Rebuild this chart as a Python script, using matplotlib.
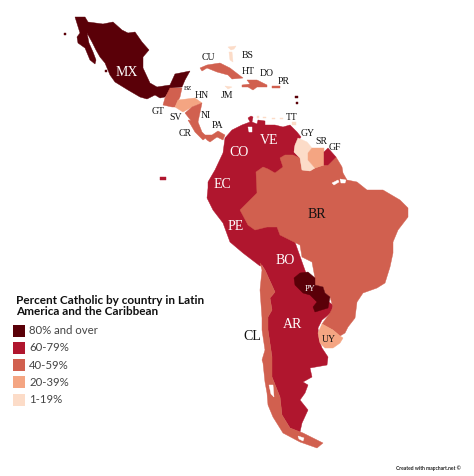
import matplotlib
matplotlib.use('Agg')
import matplotlib.pyplot as plt
from matplotlib.patches import Polygon, Rectangle

# 색상 구간
legend_title = ['Percent Catholic by country in Latin', 'America and the Caribbean']
legend_labels = ['80% and over', '60-79%', '40-59%', '20-39%', '1-19%']
legend_colors = ['#5a0008', '#b0162e', '#d1604f', '#f4a582', '#fcdcc8']
C80, C60, C40, C20, C1 = legend_colors

# 나라 외곽선 (이미지에서 읽은 값, 픽셀 기준)
mexico = [(75,17),(85,17),(88,22),(103,24),(113,22),(122,30),(128,33),(135,32),(142,42),(149,50),
          (143,57),(143,68),(150,83),(157,87),(170,85),(175,74),(190,71),(185,80),(182,87),(172,88),
          (165,97),(160,98),(155,95),(147,99),(140,97),(128,90),(115,82),(110,75),(105,63),(100,57),
          (96,50),(92,42),(87,33),(89,43),(93,52),(96,60),(95,64),(90,60),(85,48),(78,43),(77,37),(80,33)]
guatemala = [(170,88),(182,88),(180,97),(175,107),(172,107),(163,105),(165,98)]
honduras = [(178,100),(195,98),(202,103),(192,107),(183,112),(175,107)]
nicaragua = [(192,107),(202,103),(198,122),(192,122),(185,113)]
costa_rica = [(188,120),(198,122),(202,132),(207,137),(203,140),(195,132)]
panama = [(203,135),(212,135),(218,131),(225,135),(223,140),(217,137),(210,142),(207,140)]
cuba = [(200,68),(207,65),(220,63),(230,68),(243,78),(232,79),(228,75),(217,72),(207,68),(202,71)]
hispaniola = [(247,80),(257,80),(267,85),(267,87),(257,87),(253,90),(248,87),(242,87),(242,85),(250,84)]
puerto_rico = [(272,86),(280,86),(280,88),(272,88)]
jamaica = [(225,86),(232,87),(228,89)]
bahamas = [(228,47),(236,46),(234,49),(231,50)]
bahamas2 = [(229,52),(232,52),(233,62),(230,60)]
crimson_block = [(225,138),(232,130),(242,125),(250,122),(248,118),(251,116),(253,117),(252,122),(257,124),
                 (258,120),(265,121),(265,125),(275,125),(283,127),(290,125),(297,132),(301,137),(295,145),
                 (294,152),(300,158),(300,165),(280,200),(312,290),(333,305),(332,312),(322,320),(318,328),
                 (319,340),(322,348),(328,357),(327,365),(310,368),(312,377),(303,382),(308,385),(305,393),
                 (300,400),(308,410),(302,423),(300,432),(290,428),(282,415),(280,397),(272,377),(272,357),
                 (268,330),(268,317),(272,310),(270,298),(275,292),(265,270),(262,265),(260,266),(243,253),
                 (230,242),(223,223),(213,210),(207,198),(208,188),(208,182),(215,170),(223,153)]
chile = [(260,263),(265,270),(275,292),(270,298),(272,310),(268,317),(268,330),(272,357),(272,377),(280,397),
         (282,415),(290,428),(303,433),(323,443),(317,448),(300,442),(283,433),(273,417),(268,405),(267,393),
         (265,382),(263,363),(262,360),(265,350),(262,330),(262,318),(260,290),(262,270)]
brazil = [(256,172),(263,167),(268,169),(275,173),(283,167),(280,158),(285,155),(293,155),(300,158),(302,170),
          (310,171),(315,168),(324,165),(328,165),(336,157),(342,167),(343,173),(347,180),(357,182),
          (367,190),(383,190),(400,200),(408,208),(408,217),(398,230),(393,242),(393,253),
          (390,267),(385,283),(377,288),(363,293),(357,302),(355,318),(348,327),(345,333),(340,336),(333,330),
          (322,324),(330,313),(333,307),(330,297),(325,293),(323,287),(315,285),(315,278),(312,262),(302,257),
          (300,245),(280,235),(277,227),(267,227),(255,230),(248,225),(240,210),(253,197),(257,193)]
paraguay = [(300,273),(308,272),(315,278),(315,285),(323,287),(325,293),(330,297),(328,308),(315,312),(313,307),
            (317,302),(310,295),(303,293),(295,285),(294,278)]
guyana = [(298,138),(295,145),(294,152),(300,158),(302,170),(310,171),(315,168),(308,160),(308,153),(312,148),(307,142)]
suriname = [(312,148),(324,148),(324,165),(315,168),(308,160),(308,153)]
french_guiana = [(324,152),(328,148),(336,157),(328,165),(324,165)]
uruguay = [(322,324),(333,330),(340,336),(343,338),(340,343),(333,348),(325,348),(320,343),(318,333)]
trinidad = [(292,122),(296,122),(296,125),(292,125)]

# 작은 섬들
galapagos = [(160,177),(166,177),(166,180),(160,180)]
antilles_a = [(295,96),(298,96),(298,98),(295,98)]
antilles_b = [(296,102),(298,102),(298,104),(296,104)]
pacific_a = [(64,33),(66,33),(66,35),(64,35)]
pacific_b = [(105,70),(107,70),(107,72),(105,72)]
venezuela_a = [(257,116),(259,116),(259,118),(257,118)]
venezuela_b = [(263,117),(266,117),(266,118),(263,118)]
venezuela_c = [(272,118),(275,118),(275,119),(272,119)]
venezuela_d = [(280,118),(283,118),(283,119),(280,119)]

# 하얀 틈 (호수, 피오르드)
maracaibo = [(248,127),(252,127),(252,132),(249,132)]
amazon_a = [(332,183),(338,180),(339,182),(334,185)]
amazon_b = [(340,179),(346,180),(345,183),(341,183)]
fjords = [(269,385),(273,385),(274,397),(271,394)]
fuego_channel = [(298,436),(304,438),(303,441),(299,439)]

country_shapes = [(crimson_block, C60), (chile, C40), (brazil, C40), (paraguay, C80), (guyana, C1),
                  (suriname, C20), (french_guiana, C60), (uruguay, C20), (mexico, C80),
                  (guatemala, C40), (honduras, C20), (nicaragua, C40), (costa_rica, C40), (panama, C40),
                  (cuba, C40), (hispaniola, C40), (puerto_rico, C40), (jamaica, C1), (bahamas, C1),
                  (bahamas2, C1), (trinidad, C1), (galapagos, C60), (antilles_a, C80), (antilles_b, C80),
                  (pacific_a, C80), (pacific_b, C80), (venezuela_a, C1), (venezuela_b, C1),
                  (venezuela_c, C1), (venezuela_d, C1),
                  (maracaibo, 'white'), (amazon_a, 'white'), (amazon_b, 'white'), (fjords, 'white'),
                  (fuego_channel, 'white')]

# 라벨
label_names = ['MX', 'CU', 'BS', 'HT', 'DO', 'PR', 'JM', 'BZ', 'HN', 'GT', 'SV', 'NI', 'PA', 'CR', 'TT',
               'GY', 'SR', 'GF', 'CO', 'VE', 'EC', 'PE', 'BR', 'BO', 'PY', 'AR', 'CL', 'UY']
label_x = [127, 208, 248, 248, 267, 284, 227, 188, 202, 158, 176, 206, 218, 185, 292,
           308, 321, 335, 239, 269, 222, 236, 317, 285, 310, 293, 252, 329]
label_y = [73, 57, 55, 72, 74, 81, 95, 89, 95, 112, 117, 116, 125, 134, 117,
           133, 142, 147, 153, 140, 184, 227, 215, 260, 289, 325, 337, 339]
label_sizes = [10, 7, 7, 7, 7, 7, 7, 4.7, 7, 7, 7, 7, 7, 7, 7,
               7, 7, 7, 10, 10, 10, 10, 10, 10, 6, 10, 10, 7]
white_labels = ['MX', 'CO', 'VE', 'EC', 'PE', 'BO', 'PY', 'AR']

fig = plt.figure(figsize=(4.74, 4.76), dpi=100)
ax = fig.add_axes([0, 0, 1, 1])
ax.set_xlim(0, 474)
ax.set_ylim(476, 0)
ax.axis('off')

for shape, color in country_shapes:
    ax.add_patch(Polygon(shape, closed=True, facecolor=color, edgecolor=color, linewidth=0.3))

for name, x, y, size in zip(label_names, label_x, label_y, label_sizes):
    color = 'white' if name in white_labels else '#111111'
    ax.text(x, y, name, color=color, fontsize=size, family='Liberation Serif', ha='center', va='center')

# 범례
ax.text(16, 301, legend_title[0], fontsize=8.5, fontweight='bold', family='Lato', va='center', color='#111111')
ax.text(16, 311.5, legend_title[1], fontsize=8.5, fontweight='bold', family='Lato', va='center', color='#111111')
for i, (label, color) in enumerate(zip(legend_labels, legend_colors)):
    y = 330.7 + i * 17.25
    ax.add_patch(Rectangle((13, y - 6), 12, 12, facecolor=color, edgecolor='none'))
    ax.text(29, y, label, fontsize=8.2, family='Lato', va='center', color='#444444')

ax.text(428, 468, 'Created with mapchart.net ©', fontsize=3.6, fontweight='bold', family='Lato',
        ha='center', va='center', color='#222222')

fig.savefig('out.png', dpi=100)
